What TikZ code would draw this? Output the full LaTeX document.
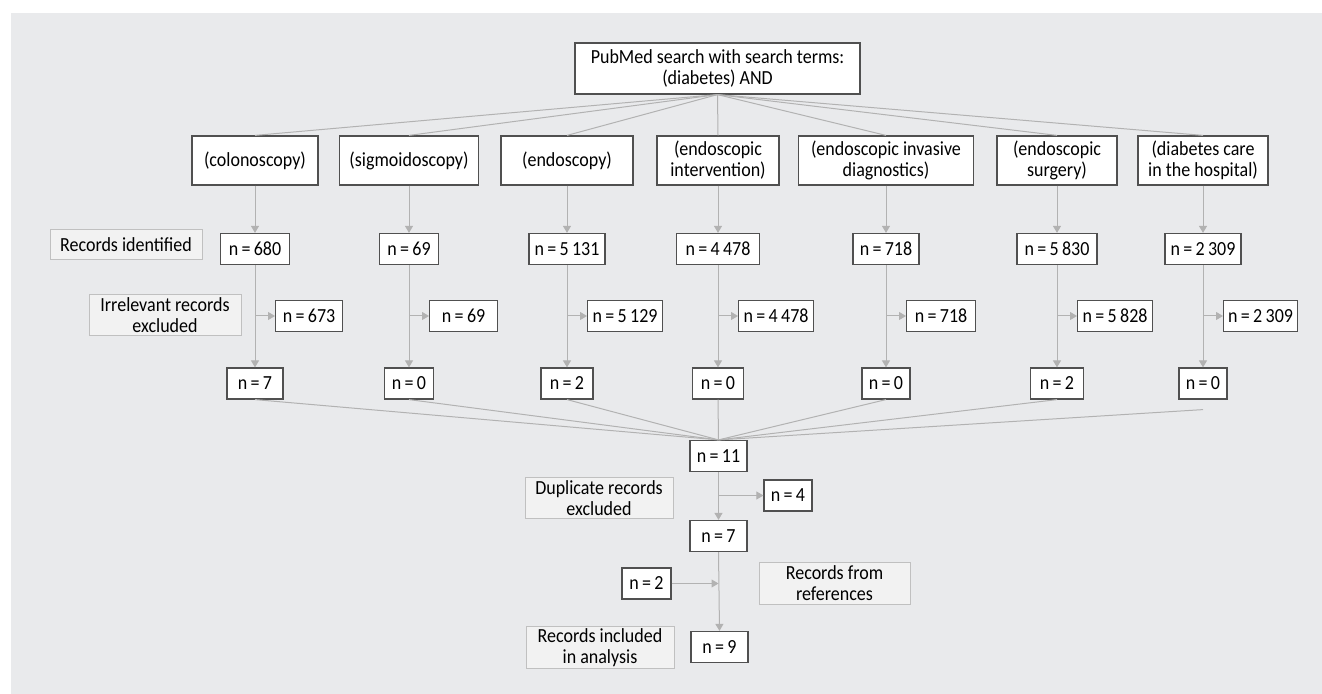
\documentclass[tikz,border=0pt]{standalone}
\usepackage{fontspec}
\setmainfont{Carlito}[FakeStretch=0.9]
\usepackage{tikz}
\usetikzlibrary{positioning,arrows.meta,calc}

\definecolor{bgback}{RGB}{233,234,236}
\definecolor{labelfill}{RGB}{242,242,242}
\definecolor{labeldraw}{RGB}{192,192,192}
\definecolor{boxdraw}{RGB}{80,80,80}
\definecolor{linkgray}{RGB}{178,178,178}

\begin{document}
\begin{tikzpicture}[x=0.5pt,y=-0.5pt,
    every node/.style={font=\fontsize{10}{10.5}\selectfont},
    box/.style={draw=boxdraw,line width=0.6pt,fill=white,inner sep=1pt,align=center},
    term/.style={box,minimum width=#1*0.5pt,minimum height=24.5pt},
    cnt/.style={box,minimum width=#1*0.5pt,minimum height=15.5pt},
    lbl/.style={draw=labeldraw,line width=0.5pt,fill=labelfill,inner sep=1pt,align=center,minimum width=#1*0.5pt,minimum height=20.5pt},
    link/.style={linkgray,line width=0.5pt},
    arr/.style={link,-{Triangle[length=3.5pt,width=4pt]}}]

    \useasboundingbox (0,0) rectangle (1322,694);
    \fill[bgback] (11,13) rectangle (1322,694);

    \node[box,minimum width=142.5pt,minimum height=25.5pt] (pubmed) at (717.5,68.5)
        {PubMed search with search terms:\\(diabetes) AND};

    % search terms and counts per column
    \foreach \x/\w/\t/\wa/\na/\wb/\nb/\wc/\nc [count=\i] in {
        255/126/{(colonoscopy)}/69/680/67/673/56/7,
        409/139/{(sigmoidoscopy)}/59/69/68/69/49/0,
        567/132/{(endoscopy)}/76/{5\,131}/75/{5\,129}/52/2,
        718/122/{(endoscopic\\intervention)}/83/{4\,478}/75/{4\,478}/51/0,
        886/175/{(endoscopic invasive\\diagnostics)}/66/718/69/718/48/0,
        1057/120/{(endoscopic\\surgery)}/80/{5\,830}/75/{5\,828}/53/2,
        1203/130/{(diabetes care\\in the hospital)}/76/{2\,309}/74/{2\,309}/48/0} {
        \node[term=\w] (t\i) at (\x,160.5) {\t};
        \node[cnt=\wa] (a\i) at (\x,249) {n\,=\,\na};
        \node[cnt=\wb,anchor=west] (b\i) at (\x+20,316) {n\,=\,\nb};
        \node[cnt=\wc] (c\i) at (\x,383.5) {n\,=\,\nc};
        \draw[link] (pubmed.south) -- (t\i.north);
        \draw[arr] (t\i.south) -- (a\i.north);
        \draw[arr] (a\i.south) -- (c\i.north);
        \draw[arr] (a\i |- b\i) -- (b\i.west);
    }

    \node[lbl=152,minimum height=15pt] (identified) at (126,245) {Records identified};
    \node[lbl=152] (irrelevant) at (165,315) {Irrelevant records\\excluded};

    \node[cnt=57] (merged) at (718.5,456) {n\,=\,11};
    \node[cnt=48] (dupn) at (788,495.5) {n\,=\,4};
    \node[cnt=57] (unique) at (718.5,536) {n\,=\,7};
    \node[cnt=49] (refn) at (646.5,583.5) {n\,=\,2};
    \node[cnt=57] (final) at (719.5,647) {n\,=\,9};

    \node[lbl=148] (duplicate) at (599,498.5) {Duplicate records\\excluded};
    \node[lbl=151] (references) at (834.5,583.5) {Records from\\references};
    \node[lbl=148] (included) at (600,647.5) {Records included\\in analysis};

    \foreach \i in {1,...,6} {
        \draw[link] (c\i.south) -- (merged.north);
    }
    \draw[link] ([yshift=-5pt]c7.south) -- (merged.north);

    \draw[arr] (merged.south) -- (unique.north);
    \draw[arr] (merged |- dupn) -- (dupn.west);
    \draw[arr] (unique.south) -- (final.north);
    \draw[arr] (refn.east) -- (unique |- refn);
\end{tikzpicture}
\end{document}
